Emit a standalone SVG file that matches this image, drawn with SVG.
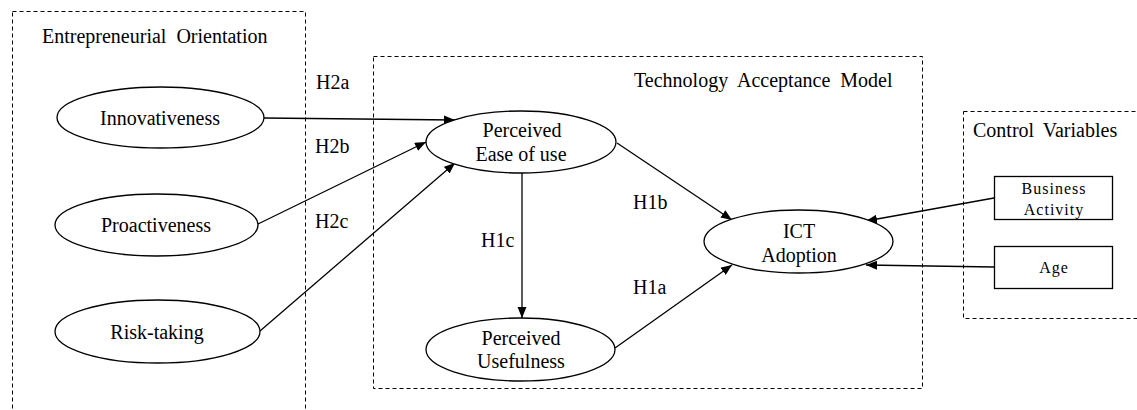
<svg xmlns="http://www.w3.org/2000/svg" width="1137" height="410" viewBox="0 0 1137 410">
<style>
text{font-family:"Liberation Serif","Times New Roman",serif;font-size:20px;fill:#000}
.c{text-anchor:middle}
.sm{font-size:16px;letter-spacing:1px}
.box{fill:none;stroke:#000;stroke-width:1;stroke-dasharray:4,3}
.node{fill:#fff;stroke:#000;stroke-width:1.3}
.edge{fill:none;stroke:#000;stroke-width:1.3;marker-end:url(#ah)}
</style>
<defs>
<marker id="ah" markerUnits="userSpaceOnUse" markerWidth="12" markerHeight="10" refX="11" refY="4.5" orient="auto">
<path d="M0,0 L11,4.5 L0,9 Z" fill="#000"/>
</marker>
</defs>
<g id="groups">
<rect class="box" x="12.5" y="11.5" width="293" height="420"/>
<text x="42" y="43" style="word-spacing:5px">Entrepreneurial Orientation</text>
<rect class="box" x="373.5" y="56.5" width="549" height="332"/>
<text x="634" y="87" style="word-spacing:5px">Technology Acceptance Model</text>
<rect class="box" x="963.5" y="111.5" width="190" height="207"/>
<text x="973" y="137" style="word-spacing:4px">Control Variables</text>
</g>
<g id="connectors">
<line class="edge" x1="264" y1="118" x2="455" y2="120"/>
<line class="edge" x1="258" y1="224" x2="426" y2="142"/>
<line class="edge" x1="260" y1="331" x2="455" y2="163"/>
<line class="edge" x1="522" y1="173" x2="522" y2="318"/>
<line class="edge" x1="617" y1="143" x2="732" y2="220"/>
<line class="edge" x1="615" y1="348" x2="732" y2="265"/>
<line class="edge" x1="994" y1="198" x2="866" y2="221"/>
<line class="edge" x1="994" y1="267" x2="866" y2="265"/>
<text x="316" y="89">H2a</text>
<text x="315" y="153">H2b</text>
<text x="315" y="228">H2c</text>
<text x="633" y="209">H1b</text>
<text x="481" y="247">H1c</text>
<text x="633" y="294">H1a</text>
</g>
<g id="innovativeness">
<ellipse class="node" cx="160.5" cy="117.5" rx="103.5" ry="30.5"/>
<text class="c" x="160" y="125">Innovativeness</text>
</g>
<g id="proactiveness">
<ellipse class="node" cx="156.5" cy="225" rx="101.5" ry="31"/>
<text class="c" x="156" y="232">Proactiveness</text>
</g>
<g id="risk-taking">
<ellipse class="node" cx="157.5" cy="331.5" rx="102.5" ry="31.5"/>
<text class="c" x="157" y="339">Risk-taking</text>
</g>
<g id="peou">
<ellipse class="node" cx="521" cy="142" rx="95" ry="31"/>
<text class="c" x="522" y="137">Perceived</text>
<text class="c" x="521" y="161">Ease of use</text>
</g>
<g id="pu">
<ellipse class="node" cx="520.5" cy="349.5" rx="94.5" ry="31.5"/>
<text class="c" x="521" y="345">Perceived</text>
<text class="c" x="521" y="368">Usefulness</text>
</g>
<g id="ict">
<ellipse class="node" cx="798.5" cy="241.5" rx="94.5" ry="31.5"/>
<text class="c" x="799" y="238">ICT</text>
<text class="c" x="799" y="262">Adoption</text>
</g>
<g id="business-activity">
<rect class="node" x="994.5" y="176.5" width="118" height="43"/>
<text class="c sm" x="1054" y="194">Business</text>
<text class="c sm" x="1054" y="215">Activity</text>
</g>
<g id="age">
<rect class="node" x="994.5" y="246.5" width="118" height="42"/>
<text class="c sm" x="1054" y="273">Age</text>
</g>
</svg>
